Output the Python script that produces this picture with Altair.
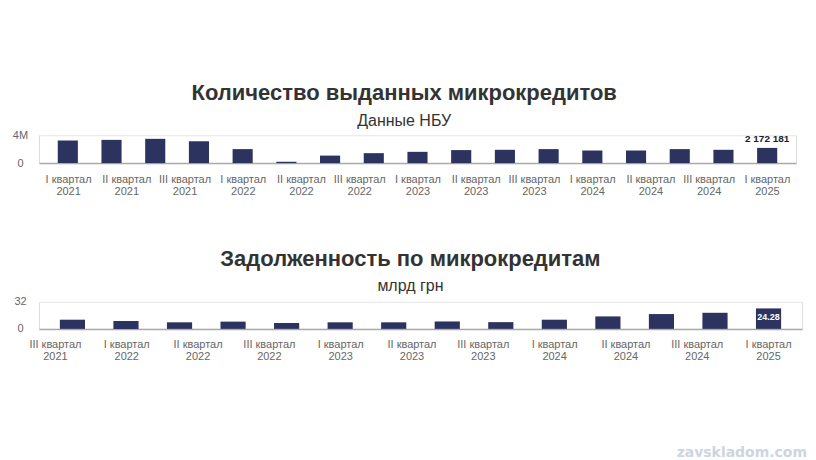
import altair as alt
import pandas as pd

FONT = "Liberation Sans"
BAR = "#2c335e"

# ---- Chart 1: number of microcredits issued ----
c1_periods = ["I 2021", "II 2021", "III 2021", "IV 2021", "I 2022", "II 2022", "III 2022", "IV 2022",
              "I 2023", "II 2023", "III 2023", "IV 2023", "I 2024", "II 2024", "III 2024", "IV 2024", "I 2025"]
c1_values = [3220000, 3320000, 3470000, 3120000, 2000000, 190000, 1070000, 1420000,
             1610000, 1860000, 1900000, 2000000, 1800000, 1800000, 2000000, 1900000, 2172181]
c1_axis_labels = ["I квартал\n2021", "II квартал\n2021", "III квартал\n2021",
                  "I квартал\n2022", "II квартал\n2022", "III квартал\n2022",
                  "I квартал\n2023", "II квартал\n2023", "III квартал\n2023",
                  "I квартал\n2024", "II квартал\n2024", "III квартал\n2024",
                  "I квартал\n2025"]

# ---- Chart 2: microcredit debt, bn UAH ----
c2_periods = ["IV 2021", "I 2022", "II 2022", "III 2022", "IV 2022", "I 2023", "II 2023",
              "III 2023", "IV 2023", "I 2024", "II 2024", "III 2024", "IV 2024", "I 2025"]
c2_values = [10.9, 9.4, 7.8, 8.6, 7.0, 7.8, 7.8, 8.8, 8.0, 10.9, 14.8, 17.6, 19.1, 24.28]
c2_axis_labels = ["III квартал\n2021", "I квартал\n2022", "II квартал\n2022", "III квартал\n2022",
                  "I квартал\n2023", "II квартал\n2023", "III квартал\n2023",
                  "I квартал\n2024", "II квартал\n2024", "III квартал\n2024",
                  "I квартал\n2025"]

df1 = pd.DataFrame({"period": c1_periods, "value": c1_values})
df1["label"] = ["" for _ in c1_values[:-1]] + [f"{c1_values[-1]:,}".replace(",", " ")]
df2 = pd.DataFrame({"period": c2_periods, "value": c2_values})
df2["label"] = ["" for _ in c2_values[:-1]] + [f"{c2_values[-1]:.2f}"]


def yaxis(vals, expr):
    return alt.Axis(values=vals, labelExpr=expr, title=None, grid=True, gridColor="#ececec",
                    domain=False, ticks=False, tickSize=0, labelColor="#666", labelFontSize=11,
                    labelFont=FONT, labelAlign="center", labelPadding=19)


def xaxis():
    return alt.Axis(title=None, labelExpr="split(datum.label, '\\n')", labelAngle=0,
                    labelOverlap=False, domain=True, domainColor="#aaa", domainWidth=1.5,
                    ticks=False, tickSize=0, grid=False, labelColor="#666", labelFontSize=11,
                    labelFont=FONT, labelPadding=10, labelLineHeight=12, labelBaseline="top")


def panel(df, periods, labels, ymax, yvals, yexpr, pin, pout, lpad, lalign, width, height,
          title, subtitle, inside, sub_pad, offset):
    base = alt.Chart(df)
    xs = alt.X("period:N", sort=periods, axis=None,
               scale=alt.Scale(paddingInner=pin, paddingOuter=pout))
    ys = alt.Y("value:Q", scale=alt.Scale(domain=[0, ymax], nice=False), axis=yaxis(yvals, yexpr))
    bars = base.mark_bar(color=BAR).encode(x=xs, y=ys)
    if inside:
        txt = base.transform_filter("datum.label != ''").mark_text(
            font=FONT, fontSize=9, fontWeight="bold", color="white", baseline="top", dy=5
        ).encode(x=xs, y=alt.Y("value:Q"), text="label:N")
    else:
        txt = base.transform_filter("datum.label != ''").mark_text(
            font=FONT, fontSize=10, fontWeight="bold", color="#222", baseline="bottom", dy=-4
        ).encode(x=xs, y=alt.Y("value:Q"), text="label:N")
    inner = alt.layer(bars, txt)
    lab_df = pd.DataFrame({"lab": labels})
    lab_layer = alt.Chart(lab_df).mark_point(opacity=0).encode(
        x=alt.X("lab:N", sort=labels, axis=xaxis(),
                scale=alt.Scale(type="point", padding=lpad, align=lalign))
    )
    props = dict(width=width, height=height,
                 title=alt.TitleParams(text=title, subtitle=subtitle, fontSize=22,
                                       font=FONT, fontWeight="bold", color="#333",
                                       subtitleFont=FONT, subtitleFontSize=16,
                                       subtitleColor="#333", anchor="middle",
                                       frame="bounds", offset=offset, subtitlePadding=sub_pad))
    return inner, lab_layer, props


in1, lab1, p1 = panel(df1, c1_periods, c1_axis_labels, 4000000, [0, 4000000],
                      "datum.value == 0 ? '0' : format(datum.value / 1000000, 'd') + 'M'",
                      0.54, 0.43, 0.5, 0.5, 758, 28,
                      "Количество выданных микрокредитов", "Данные НБУ", False, 8, -1)
chart1 = alt.layer(in1, lab1).resolve_scale(x="independent").properties(**p1)

in2, lab2, p2 = panel(df2, c2_periods, c2_axis_labels, 32, [0, 32], "datum.label",
                      0.53, 0.39, 0.35, 0.32, 764, 27,
                      "Задолженность по микрокредитам", "млрд грн", True, 7, 1)
wm = alt.Chart(pd.DataFrame({"t": ["zavskladom.com"]})).mark_text(
    font="DejaVu Sans", fontSize=14, fontWeight="bold", color="#ccd5e0", align="right",
    baseline="alphabetic"
).encode(x=alt.value(769), y=alt.value(155), text="t:N")
chart2 = alt.layer(in2, lab2, wm).resolve_scale(x="independent").properties(**p2)

chart = alt.vconcat(chart1, chart2, spacing=50).properties(
    padding={"left": 3, "top": 73, "right": 0, "bottom": 0}
).configure_view(stroke="transparent").configure(background="white")

chart.save("out.html", embed_options={"renderer": "svg", "actions": False})
